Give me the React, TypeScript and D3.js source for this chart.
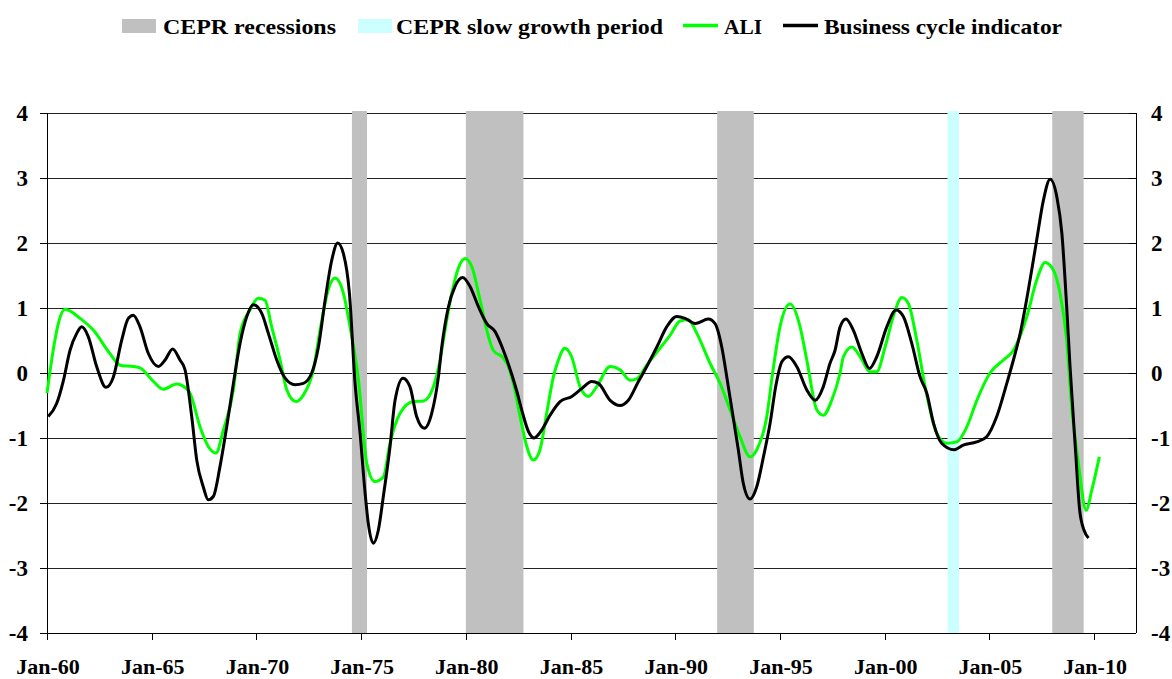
import React, { useEffect } from "react";
import * as d3 from "d3";

// ---- Data ----
const aliYears = [1960.0, 1960.38, 1960.54, 1960.86, 1961.58, 1962.21, 1963.0, 1963.49, 1964.12, 1964.44, 1965.08, 1965.55, 1966.19, 1966.43, 1966.83, 1967.31, 1967.7, 1968.07, 1968.42, 1968.9, 1969.22, 1969.69, 1970.09, 1970.41, 1970.73, 1971.13, 1971.45, 1971.89, 1972.24, 1972.72, 1973.04, 1973.43, 1973.75, 1974.15, 1974.47, 1974.87, 1975.27, 1975.66, 1976.06, 1976.38, 1976.86, 1977.49, 1977.97, 1978.45, 1978.77, 1978.93, 1979.33, 1979.64, 1979.96, 1980.28, 1980.68, 1981.0, 1981.31, 1981.79, 1982.03, 1982.27, 1982.59, 1982.91, 1983.22, 1983.54, 1983.86, 1984.18, 1984.42, 1984.73, 1985.05, 1985.45, 1985.85, 1986.25, 1986.89, 1987.36, 1987.84, 1988.16, 1988.64, 1989.27, 1989.75, 1990.23, 1990.62, 1991.03, 1991.66, 1992.14, 1992.62, 1993.09, 1993.57, 1993.89, 1994.37, 1994.65, 1995.0, 1995.48, 1995.96, 1996.28, 1996.76, 1997.07, 1997.47, 1997.87, 1998.03, 1998.43, 1998.83, 1999.3, 1999.62, 2000.02, 2000.41, 2000.82, 2001.13, 2001.53, 2001.93, 2002.49, 2002.97, 2003.44, 2003.92, 2004.4, 2005.03, 2005.67, 2006.15, 2006.79, 2007.26, 2007.66, 2008.06, 2008.37, 2008.69, 2008.93, 2009.25, 2009.62, 2009.89, 2010.25];
const aliValues = [-0.31, 0.51, 0.76, 0.98, 0.84, 0.66, 0.3, 0.12, 0.1, 0.08, -0.13, -0.25, -0.17, -0.19, -0.31, -0.83, -1.13, -1.23, -0.88, -0.26, 0.61, 0.97, 1.15, 1.12, 0.71, 0.2, -0.26, -0.44, -0.34, 0.05, 0.66, 1.28, 1.46, 1.23, 0.71, -0.1, -1.39, -1.67, -1.6, -1.08, -0.62, -0.44, -0.43, -0.21, 0.2, 0.51, 1.23, 1.61, 1.76, 1.64, 1.12, 0.66, 0.35, 0.23, 0.1, -0.16, -0.67, -1.13, -1.34, -1.18, -0.62, -0.06, 0.2, 0.38, 0.25, -0.21, -0.36, -0.21, 0.1, 0.05, -0.11, -0.09, 0.12, 0.38, 0.58, 0.8, 0.82, 0.61, 0.15, -0.16, -0.57, -0.98, -1.29, -1.18, -0.67, 0.0, 0.71, 1.06, 0.71, 0.2, -0.57, -0.65, -0.42, 0.0, 0.25, 0.4, 0.25, 0.02, 0.02, 0.4, 0.87, 1.16, 1.07, 0.51, -0.21, -0.93, -1.08, -1.06, -0.83, -0.42, 0.0, 0.2, 0.35, 0.87, 1.43, 1.7, 1.58, 1.23, 0.51, -0.52, -1.39, -2.11, -1.8, -1.29];

const bciYears = [1960.06, 1960.46, 1960.78, 1961.1, 1961.42, 1961.66, 1961.97, 1962.37, 1962.82, 1963.17, 1963.57, 1963.88, 1964.12, 1964.44, 1964.84, 1965.32, 1965.64, 1966.0, 1966.35, 1966.59, 1966.91, 1967.15, 1967.46, 1967.7, 1967.94, 1968.26, 1968.58, 1968.9, 1969.22, 1969.54, 1969.85, 1970.25, 1970.57, 1970.97, 1971.37, 1971.84, 1972.24, 1972.64, 1972.96, 1973.28, 1973.6, 1973.88, 1974.15, 1974.44, 1974.71, 1974.95, 1975.19, 1975.34, 1975.58, 1975.82, 1976.06, 1976.38, 1976.62, 1977.0, 1977.33, 1977.65, 1978.02, 1978.37, 1978.69, 1978.85, 1979.17, 1979.48, 1979.85, 1980.2, 1980.6, 1981.0, 1981.39, 1981.79, 1982.19, 1982.45, 1982.67, 1982.99, 1983.26, 1983.62, 1984.02, 1984.5, 1985.06, 1985.53, 1986.01, 1986.33, 1986.89, 1987.36, 1987.76, 1988.24, 1988.64, 1989.12, 1989.59, 1990.07, 1990.47, 1990.95, 1991.58, 1991.9, 1992.22, 1992.46, 1992.7, 1993.01, 1993.25, 1993.57, 1993.89, 1994.21, 1994.53, 1994.8, 1995.1, 1995.4, 1995.8, 1996.28, 1996.68, 1997.07, 1997.39, 1997.63, 1997.87, 1998.15, 1998.5, 1998.91, 1999.27, 1999.62, 2000.1, 2000.54, 2000.89, 2001.29, 2001.69, 2002.01, 2002.33, 2002.72, 2003.31, 2003.75, 2004.39, 2004.87, 2005.35, 2005.83, 2006.23, 2006.47, 2006.86, 2007.26, 2007.58, 2007.9, 2008.22, 2008.46, 2008.69, 2008.85, 2009.11, 2009.31, 2009.52, 2009.73];
const bciValues = [-0.67, -0.47, -0.12, 0.35, 0.61, 0.71, 0.56, 0.1, -0.22, -0.06, 0.51, 0.84, 0.89, 0.71, 0.3, 0.1, 0.2, 0.37, 0.2, 0.05, -0.67, -1.34, -1.75, -1.95, -1.9, -1.44, -0.83, -0.16, 0.46, 0.87, 1.05, 0.92, 0.61, 0.2, -0.08, -0.18, -0.16, 0.0, 0.4, 1.12, 1.74, 2.0, 1.84, 1.23, -0.16, -0.93, -1.85, -2.31, -2.62, -2.42, -1.9, -1.13, -0.42, -0.08, -0.21, -0.67, -0.85, -0.62, -0.06, 0.4, 1.02, 1.33, 1.47, 1.33, 1.02, 0.76, 0.64, 0.35, -0.02, -0.3, -0.57, -0.9, -1.0, -0.88, -0.65, -0.44, -0.36, -0.24, -0.13, -0.16, -0.42, -0.5, -0.42, -0.13, 0.1, 0.4, 0.71, 0.87, 0.84, 0.76, 0.83, 0.76, 0.4, -0.06, -0.55, -1.18, -1.7, -1.94, -1.75, -1.29, -0.77, -0.2, 0.18, 0.25, 0.1, -0.26, -0.42, -0.21, 0.15, 0.35, 0.71, 0.83, 0.66, 0.3, 0.07, 0.25, 0.71, 0.97, 0.87, 0.46, -0.06, -0.31, -0.77, -1.08, -1.18, -1.11, -1.06, -0.98, -0.67, -0.16, 0.3, 0.61, 1.28, 2.05, 2.66, 2.98, 2.71, 2.15, 1.02, 0.1, -1.18, -2.11, -2.42, -2.54];

const recessionStarts = [1974.56, 1980.0, 1992.0, 2008.0];
const recessionEnds = [1975.28, 1982.75, 1993.75, 2009.5];
const slowStarts = [2003.0];
const slowEnds = [2003.55];

const xTickYears = [1960, 1965, 1970, 1975, 1980, 1985, 1990, 1995, 2000, 2005, 2010];
const xTickLabels = ["Jan-60", "Jan-65", "Jan-70", "Jan-75", "Jan-80", "Jan-85", "Jan-90", "Jan-95", "Jan-00", "Jan-05", "Jan-10"];
const yTicks = [-4, -3, -2, -1, 0, 1, 2, 3, 4];

const legendLabels = ["CEPR recessions", "CEPR slow growth period", "ALI", "Business cycle indicator"];

const W = 1172;
const H = 679;
const left = 47;
const right = 1136;
const top = 113;
const bottom = 633;
const FONT = '"Liberation Serif", "Times New Roman", Times, "DejaVu Serif", serif';

export default function App() {
  useEffect(() => {
    document.body.style.margin = "0";
    document.body.style.overflow = "hidden";
  }, []);

  const x = d3.scaleLinear().domain([1960, 2012]).range([left, right]);
  const y = d3.scaleLinear().domain([-4, 4]).range([bottom, top]);

  const line = d3
    .line<[number, number]>()
    .x((d) => x(d[0]))
    .y((d) => y(d[1]))
    .curve(d3.curveMonotoneX);

  const aliPts = aliYears.map((t, i) => [t, aliValues[i]] as [number, number]);
  const bciPts = bciYears.map((t, i) => [t, bciValues[i]] as [number, number]);

  const crisp = (v: number) => Math.round(v) + 0.5;
  const tStyle: React.CSSProperties = { fontFamily: FONT, fontWeight: 700 };

  return (
    <svg width={W} height={H} style={{ display: "block", background: "#fff" }}>
      <rect x={0} y={0} width={W} height={H} fill="#fff" />
      {/* gridlines */}
      {yTicks.map((t) => (
        <line key={"g" + t} x1={left} x2={right} y1={crisp(y(t))} y2={crisp(y(t))} stroke="#222" strokeWidth={1} />
      ))}
      {/* recession bars */}
      {recessionStarts.map((s, i) => (
        <rect key={"r" + i} x={x(s)} width={x(recessionEnds[i]) - x(s)} y={top - 2} height={bottom - top + 2} fill="#C0C0C0" />
      ))}
      {slowStarts.map((s, i) => (
        <rect key={"s" + i} x={x(s)} width={x(slowEnds[i]) - x(s)} y={top - 2} height={bottom - top + 2} fill="#CCFFFF" />
      ))}
      {/* axes */}
      <line x1={crisp(left)} x2={crisp(left)} y1={top} y2={bottom} stroke="#000" strokeWidth={1} />
      <line x1={crisp(right)} x2={crisp(right)} y1={top} y2={bottom} stroke="#000" strokeWidth={1} />
      <line x1={left} x2={right} y1={crisp(bottom)} y2={crisp(bottom)} stroke="#000" strokeWidth={1} />
      {yTicks.map((t) => (
        <g key={"yt" + t}>
          <line x1={left - 7} x2={left} y1={crisp(y(t))} y2={crisp(y(t))} stroke="#000" strokeWidth={1} />
          <line x1={right - 7} x2={right} y1={crisp(y(t))} y2={crisp(y(t))} stroke="#000" strokeWidth={1} />
          <text x={28} y={y(t)} dy="0.35em" textAnchor="end" fontSize={23} style={tStyle}>
            {t}
          </text>
          <text x={1151} y={y(t)} dy="0.35em" textAnchor="start" fontSize={23} style={tStyle}>
            {t}
          </text>
        </g>
      ))}
      {xTickYears.map((t, i) => (
        <g key={"xt" + t}>
          <line x1={crisp(x(t))} x2={crisp(x(t))} y1={bottom} y2={bottom + 7} stroke="#000" strokeWidth={1} />
          <text x={x(t) + 1} y={674} textAnchor="middle" fontSize={22} style={tStyle}>
            {xTickLabels[i]}
          </text>
        </g>
      ))}
      {/* series */}
      <path d={line(aliPts) || ""} fill="none" stroke="#00FF00" strokeWidth={3} strokeLinejoin="round" />
      <path d={line(bciPts) || ""} fill="none" stroke="#000" strokeWidth={3} strokeLinejoin="round" />
      {/* legend */}
      <g fontSize={21}>
        <rect x={122} y={19} width={34} height={14} fill="#C0C0C0" />
        <text x={163} y={34} style={tStyle} textLength={173} lengthAdjust="spacingAndGlyphs">{legendLabels[0]}</text>
        <rect x={358} y={19} width={34} height={14} fill="#CCFFFF" />
        <text x={396} y={34} style={tStyle} textLength={267} lengthAdjust="spacingAndGlyphs">{legendLabels[1]}</text>
        <line x1={683} x2={718} y1={25.5} y2={25.5} stroke="#00FF00" strokeWidth={3.5} />
        <text x={724} y={34} style={tStyle} textLength={38} lengthAdjust="spacingAndGlyphs">{legendLabels[2]}</text>
        <line x1={783} x2={818} y1={25.5} y2={25.5} stroke="#000" strokeWidth={3.5} />
        <text x={824} y={34} style={tStyle} textLength={238} lengthAdjust="spacingAndGlyphs">{legendLabels[3]}</text>
      </g>
    </svg>
  );
}
